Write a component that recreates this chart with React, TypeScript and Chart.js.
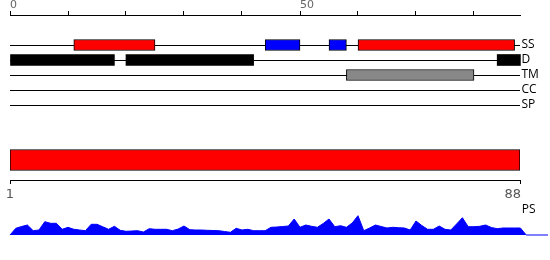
import React, { useEffect, useRef } from 'react';
import { Chart, registerables } from 'chart.js';

Chart.register(...registerables);

// ---------- data ----------
const SEQ_LENGTH = 88;
const TRACK_ROWS = ['SS', 'D', 'TM', 'CC', 'SP'];
const TOP_TICKS = [0, 10, 20, 30, 40, 50, 60, 70, 80];
const TOP_TICK_LABELS = [0, 50];

const HELIX = [[11, 25], [60, 87]];
const STRAND = [[44, 50], [55, 58]];
const DISORDER = [[0, 18], [20, 42], [84, 88]];
const TRANSMEMBRANE = [[58, 80]];

const PS_RANGE = [1, 88];
const BOTTOM_TICKS = [1, 88];
const PROFILE_LABEL = 'PS';

const PROFILE = [
  6.7, 8.5, 10, 4.3, 5, 13.3, 11.7, 11.7, 5.7, 7.7,
  5.7, 5, 4.3, 10.7, 10.7, 8.2, 5.7, 8.7, 4.7, 3.7,
  4, 4.3, 3, 6.3, 5.7, 5.7, 5.7, 4.3, 6, 9,
  5.3, 5, 5, 4.7, 4.5, 4.3, 3.5, 2.7, 6.7, 5,
  5.7, 4.3, 4.3, 4.3, 7.7, 8, 8.5, 9, 16, 7.7,
  10, 8.7, 7.7, 11.5, 16, 8.3, 9.3, 7.7, 12, 19.3,
  4.3, 7, 10, 8.5, 7, 7.7, 7.3, 7, 5, 14,
  9.5, 5.7, 5.7, 9, 5.7, 5, 11, 17.3, 8.3, 8.3,
  8.7, 10, 7.5, 6.3, 7, 7, 7, 7,
];
const PROFILE_MAX = 25;
const PROFILE_X_MAX = 92.76;

// ---------- charts ----------
function trackConfig(): any {
  const seg = (label: string, segs: number[][], row: string, bg: string, border: boolean) => ({
    label,
    data: segs.map((s) => ({ x: s, y: TRACK_ROWS.indexOf(row) })),
    backgroundColor: bg,
    borderColor: '#000000',
    borderWidth: border ? 1 : 0,
    borderSkipped: false,
    barThickness: 11,
    grouped: false,
    clip: false,
  });
  return {
    type: 'bar',
    data: {
      datasets: [
        seg('Helix', HELIX, 'SS', '#ff0000', true),
        seg('Strand', STRAND, 'SS', '#0000ff', true),
        seg('Disorder', DISORDER, 'D', '#000000', false),
        seg('Transmembrane', TRANSMEMBRANE, 'TM', '#888888', true),
      ],
    },
    options: {
      indexAxis: 'y',
      responsive: false,
      animation: false,
      events: [],
      layout: { padding: { left: 10, right: 0, top: 0, bottom: 10 } },
      plugins: { legend: { display: false }, tooltip: { enabled: false } },
      scales: {
        x: {
          type: 'linear',
          position: 'top',
          min: 0,
          max: SEQ_LENGTH,
          stacked: false,
          offset: false,
          afterBuildTicks: (ax: any) => {
            ax.ticks = TOP_TICKS.map((v) => ({ value: v }));
          },
          grid: { drawOnChartArea: false, drawTicks: true, tickLength: 4, color: '#000000', lineWidth: 1, offset: false },
          border: { display: true, color: '#000000', width: 1 },
          ticks: {
            align: 'start',
            padding: 0,
            autoSkip: false,
            maxRotation: 0,
            color: '#666666',
            font: { family: 'DejaVu Sans', size: 11, lineHeight: 1 },
            callback: (v: number) => (TOP_TICK_LABELS.includes(v) ? String(v) : ''),
          },
        },
        y: {
          type: 'linear',
          position: 'right',
          min: -2,
          max: TRACK_ROWS.length - 1,
          reverse: true,
          offset: false,
          afterBuildTicks: (ax: any) => {
            ax.ticks = TRACK_ROWS.map((_, i) => ({ value: i }));
          },
          afterFit: (ax: any) => {
            ax.width = 29.6;
          },
          grid: { drawOnChartArea: true, drawTicks: false, color: '#000000', lineWidth: 1, offset: false },
          border: { display: false },
          ticks: {
            padding: 1,
            autoSkip: false,
            color: '#000000',
            font: { family: 'Open Sans', size: 12 },
            callback: (v: number) => TRACK_ROWS[v] ?? '',
          },
        },
      },
    },
  };
}

const edgeLabelsPlugin = {
  id: 'edgeLabels',
  afterDraw(chart: any) {
    const sx = chart.scales.x;
    const ctx = chart.ctx;
    ctx.save();
    ctx.fillStyle = '#555555';
    ctx.font = '13px "DejaVu Sans"';
    ctx.textBaseline = 'middle';
    const y = sx.top + 4 + 3 + 7.8;
    sx.ticks.forEach((t: any, i: number) => {
      const px = sx.getPixelForValue(t.value);
      const last = i === sx.ticks.length - 1 && i > 0;
      ctx.textAlign = last ? 'right' : 'center';
      ctx.fillText(String(t.value), last ? px + 1 : px, y);
    });
    ctx.restore();
  },
};

function psConfig(): any {
  return {
    type: 'bar',
    data: {
      labels: ['PS'],
      datasets: [
        {
          label: 'PS',
          data: [PS_RANGE],
          backgroundColor: '#ff0000',
          borderColor: '#000000',
          borderWidth: 1,
          borderSkipped: false,
          barThickness: 21,
        },
      ],
    },
    plugins: [edgeLabelsPlugin],
    options: {
      indexAxis: 'y',
      responsive: false,
      animation: false,
      events: [],
      layout: { padding: { left: 10, right: 30, top: 0, bottom: 0 } },
      plugins: { legend: { display: false }, tooltip: { enabled: false } },
      scales: {
        x: {
          type: 'linear',
          position: 'bottom',
          min: PS_RANGE[0],
          max: PS_RANGE[1],
          afterBuildTicks: (ax: any) => {
            ax.ticks = BOTTOM_TICKS.map((v) => ({ value: v }));
          },
          afterFit: (ax: any) => {
            ax.height = 20;
          },
          grid: { drawOnChartArea: false, drawTicks: true, tickLength: 4, color: '#000000' },
          border: { display: true, color: '#000000', width: 1 },
          ticks: { display: false },
        },
        y: { type: 'category', display: false },
      },
    },
  };
}

const profileLabelPlugin = {
  id: 'profileLabel',
  afterDraw(chart: any) {
    const sx = chart.scales.x;
    const sy = chart.scales.y;
    const ctx = chart.ctx;
    ctx.save();
    ctx.fillStyle = '#000000';
    ctx.font = '12px "Open Sans"';
    ctx.textAlign = 'left';
    ctx.textBaseline = 'middle';
    ctx.fillText(PROFILE_LABEL, sx.getPixelForValue(SEQ_LENGTH) + 1.3, sy.getPixelForValue(PROFILE_MAX));
    ctx.restore();
  },
};

function profileConfig(): any {
  const pts = [
    { x: 0, y: 0 },
    ...PROFILE.map((v, i) => ({ x: i + 1, y: v })),
    { x: SEQ_LENGTH + 1, y: 0 },
    { x: PROFILE_X_MAX, y: 0 },
  ];
  return {
    type: 'line',
    data: {
      datasets: [
        {
          label: PROFILE_LABEL,
          data: pts,
          borderColor: '#0000ff',
          backgroundColor: '#0000ff',
          borderWidth: 1,
          fill: 'origin',
          pointRadius: 0,
          tension: 0,
          clip: false,
        },
      ],
    },
    plugins: [profileLabelPlugin],
    options: {
      responsive: false,
      animation: false,
      events: [],
      layout: { padding: { left: 10, right: 2, top: 10, bottom: 5 } },
      plugins: { legend: { display: false }, tooltip: { enabled: false } },
      scales: {
        x: { type: 'linear', min: 0, max: PROFILE_X_MAX, display: false },
        y: { type: 'linear', min: 0, max: PROFILE_MAX, display: false },
      },
    },
  };
}

function ChartCanvas({ config, top, height }: { config: () => any; top: number; height: number }) {
  const ref = useRef<HTMLCanvasElement | null>(null);
  useEffect(() => {
    if (!ref.current) return;
    const chart = new Chart(ref.current, config());
    return () => chart.destroy();
  }, [config]);
  return (
    <canvas
      ref={ref}
      width={550}
      height={height}
      style={{ position: 'absolute', left: 0, top, width: 550, height, display: 'block' }}
    />
  );
}

export default function App() {
  return (
    <div style={{ position: 'fixed', left: 0, top: 0, width: 550, height: 260, background: '#ffffff', overflow: 'hidden' }}>
      <ChartCanvas config={trackConfig} top={0} height={115} />
      <ChartCanvas config={psConfig} top={140} height={60} />
      <ChartCanvas config={profileConfig} top={200} height={40} />
    </div>
  );
}
